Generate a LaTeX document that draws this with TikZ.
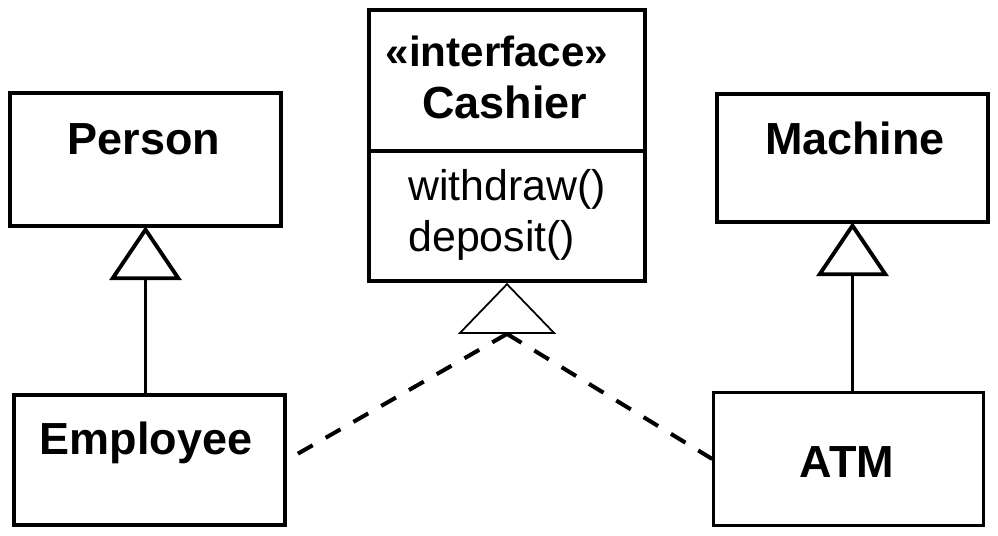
\documentclass[tikz,border=0pt]{standalone}
\usepackage{fontspec}
\setmainfont{Liberation Sans}
\usetikzlibrary{arrows.meta, positioning, calc}

\begin{document}
\begin{tikzpicture}[
  x=0.02cm, y=-0.02cm,
  classbox/.style={draw, rectangle, line width=2.2pt, inner sep=0pt},
  clsname/.style={font=\fontsize{25.6}{30}\selectfont\bfseries, anchor=base, inner sep=0pt},
  stereo/.style={font=\fontsize{24}{28}\selectfont\bfseries, anchor=base, inner sep=0pt},
  op/.style={font=\fontsize{24.4}{29}\selectfont, anchor=base west, inner sep=0pt},
  inherit/.style={line width=2.2pt, shorten >=-1pt, -{Triangle[open, length=1.08cm, width=1.44cm]}},
  realize_tip/.style={line width=1pt, -{Triangle[open, length=1.02cm, width=1.96cm]}},
  realize/.style={line width=2.3pt, dash pattern=on 0.34cm off 0.30cm}
]
  \useasboundingbox (0,0) rectangle (998,536);

  % Superclasses
  \node[classbox, minimum width=5.42cm, minimum height=2.66cm] (person) at (145.5,159.5) {};
  \node[clsname] (personlbl) at (144,155) {Person};

  \node[classbox, minimum width=5.42cm, minimum height=2.56cm] (machine) at (852.5,158) {};
  \node[clsname] (machinelbl) at (855,155) {Machine};

  % Interface
  \node[classbox, minimum width=5.52cm, minimum height=2.82cm] (cashtop) at (507,80.5) {};
  \node[classbox, minimum width=5.52cm, minimum height=2.60cm] (cashbot) at (507,216) {};
  \node[stereo] (stereolbl) at (497,67) {«interface»};
  \node[clsname] (cashlbl) at (505,119) {Cashier};
  \node[op] (withdraw) at (408,201) {withdraw()};
  \node[op] (deposit) at (408,252) {deposit()};

  % Subclasses
  \node[classbox, minimum width=5.42cm, minimum height=2.60cm] (employee) at (149.5,460) {};
  \node[clsname] (employeelbl) at (146,455) {Employee};

  \node[classbox, line width=1.5pt, minimum width=5.40cm, minimum height=2.66cm] (atm) at (848.5,459) {};
  \node[clsname] (atmlbl) at (847,478) {ATM};

  % Generalization
  \draw[inherit] (person.south |- employee.north) -- (person.south);
  \draw[inherit] (machine.south |- atm.north) -- (machine.south);

  % Realization
  \coordinate (tribase) at ($(cashbot.south)+(0,51)$);
  \draw[realize_tip] (tribase) -- (cashbot.south);
  \draw[realize] (tribase) -- (employee.east);
  \draw[realize] (tribase) -- (atm.west);

\end{tikzpicture}
\end{document}
